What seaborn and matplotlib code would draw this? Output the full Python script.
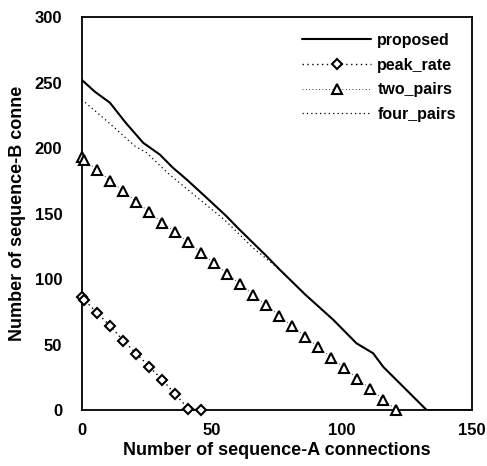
import numpy as np
import pandas as pd
import matplotlib
matplotlib.use("Agg")
import matplotlib.pyplot as plt
import seaborn as sns

# proposed (solid)
prop_x = [0, 5, 10.8, 17, 23.6, 30, 35, 40.3, 48, 55.6, 60, 65.9, 70.5, 76.2, 86, 96.7, 105.6, 112, 115.9, 124, 132.6, 150]
prop_y = [252, 243, 234.6, 219, 204, 195, 185, 176, 162, 148, 139, 127.5, 118.6, 107, 88, 68.9, 51, 43.4, 33, 17, 0, 0]

# four_pairs (dotted)
four_x = [0, 10, 20.4, 24.9, 33, 41.5, 55, 65.9, 76.2, 86, 96.7, 105.6, 112, 115.9, 124, 132.6]
four_y = [237, 220, 201.5, 196.4, 181, 167, 145, 123.7, 107, 88, 68.9, 51, 43.4, 33, 17, 0]

# two_pairs (triangles)
two_x = [0, 1, 6, 11, 16, 21, 26, 31, 36, 41, 46, 51, 56, 61, 66, 71, 76, 81, 86, 91, 96, 101, 106, 111, 116, 121]
two_y = [193, 191, 183, 175, 167, 159, 151, 143, 136, 128, 120, 112, 104, 96, 88, 80, 72, 64, 56, 48, 40, 32, 24, 16, 8, 0]

# peak_rate (diamonds)
peak_x = [0, 1, 6, 11, 16, 21, 26, 31, 36, 41, 46]
peak_y = [86, 84, 74, 64, 53, 43, 33, 23, 12, 1, 0]

sns.set_style("white")
plt.rcParams['font.family'] = ['Liberation Sans', 'DejaVu Sans']
plt.rcParams['text.color'] = 'black'
plt.rcParams['axes.labelcolor'] = 'black'
plt.rcParams['xtick.color'] = 'black'
plt.rcParams['ytick.color'] = 'black'

fig = plt.figure(figsize=(4.87, 4.66), dpi=100)
ax = fig.add_axes([0.168, 0.12, 0.801, 0.8435])

sns.lineplot(x=prop_x, y=prop_y, ax=ax, color="black", linewidth=1.5,
             sort=False, label="proposed")
sns.lineplot(x=peak_x, y=peak_y, ax=ax, color="black", linewidth=1.0,
             linestyle=(0, (1, 2.5)), marker="D", markersize=5.5,
             markerfacecolor="white", markeredgecolor="black",
             markeredgewidth=1.5, sort=False, clip_on=False, zorder=5,
             label="peak_rate")
sns.lineplot(x=two_x, y=two_y, ax=ax, color="black", linewidth=0.6,
             linestyle=(0, (1, 3)), marker="^", markersize=7.5,
             markerfacecolor="white", markeredgecolor="black",
             markeredgewidth=1.5, sort=False, clip_on=False, zorder=5,
             label="two_pairs")
sns.lineplot(x=four_x, y=four_y, ax=ax, color="black", linewidth=0.9,
             linestyle=(0, (1, 2.5)), sort=False, label="four_pairs")

ax.set_xlim(0, 150)
ax.set_ylim(0, 300)
ax.set_xticks([0, 50, 100, 150])
ax.set_yticks([0, 50, 100, 150, 200, 250, 300])
ax.tick_params(axis="x", length=0, labelsize=12, pad=9)
ax.tick_params(axis="y", length=0, labelsize=12, pad=14)
for lab in ax.get_xticklabels() + ax.get_yticklabels():
    lab.set_fontweight("bold")

for s in ax.spines.values():
    s.set_color("black")
    s.set_linewidth(1.3)

ax.set_xlabel("Number of sequence-A connections", fontsize=13,
              fontweight="bold", labelpad=3)
ax.set_ylabel("Number of sequence-B conne", fontsize=13,
              fontweight="bold", labelpad=6)

leg = ax.legend(loc="upper right", frameon=False, fontsize=11.5,
                handlelength=4.3, handletextpad=0.4, labelspacing=0.6,
                borderaxespad=0.6)
for t in leg.get_texts():
    t.set_fontweight("bold")

fig.savefig("out.png", dpi=100)
